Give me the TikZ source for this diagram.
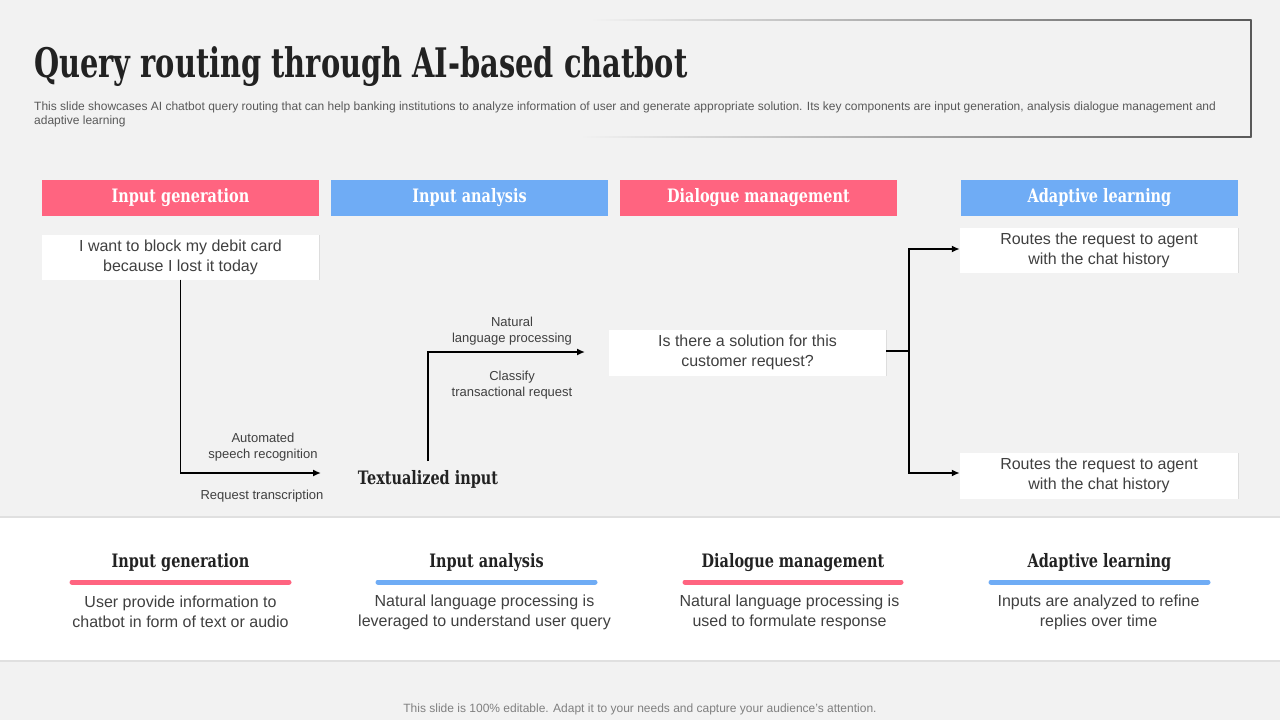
\documentclass[tikz,border=0pt]{standalone}
\usepackage{fontspec}
\usepackage{graphicx}
\setmainfont{Liberation Sans}
\newfontfamily\headfont{DejaVu Serif}[FakeStretch=0.78]
\usetikzlibrary{positioning, arrows.meta, shadows}

\definecolor{bggray}{HTML}{F2F2F2}
\definecolor{pinkbar}{HTML}{FF6480}
\definecolor{bluebar}{HTML}{6FACF5}
\definecolor{txtgray}{HTML}{404040}
\definecolor{darktxt}{HTML}{222222}

\tikzset{
  headbar/.style={minimum width=277pt, minimum height=36pt, inner sep=0pt,
    text=white, font=\headfont\bfseries\fontsize{18.5}{20}\selectfont},
  msgbox/.style={fill=white, minimum width=277pt, minimum height=45pt, inner sep=0pt,
    align=center, text=txtgray, font=\fontsize{16}{20}\selectfont,
    drop shadow={shadow xshift=0.6pt, shadow yshift=-0.8pt, opacity=0.15, fill=black!60}},
  steplabel/.style={align=center, inner sep=0pt, text=txtgray,
    font=\fontsize{13}{16}\selectfont},
  coltitle/.style={inner sep=0pt, text=darktxt,
    font=\headfont\bfseries\fontsize{18.5}{20}\selectfont},
  coltext/.style={align=center, inner sep=0pt, text=txtgray,
    font=\fontsize{16}{20}\selectfont},
  colbar/.style={line width=5pt, line cap=round},
  flow/.style={line width=1.6pt, black},
  flowarrow/.style={flow, -{Latex[length=8pt, width=7pt]}}
}

\begin{document}
\begin{tikzpicture}[x=1pt, y=-1pt]
\fill[bggray] (0,0) rectangle (1280,720);
\useasboundingbox (0,0) rectangle (1280,720);

% title frame
\shade[left color=bggray, right color=black!65] (590,19.4) rectangle (1251.6,20.6);
\shade[left color=bggray, right color=black!65] (580,136.4) rectangle (1251.6,137.6);
\draw[black!65, line width=1.2pt] (1251,20) -- (1251,137);

\node[anchor=base west, inner sep=0pt, text=darktxt,
  font=\headfont\bfseries\fontsize{37}{40}\selectfont] (title) at (34,77)
  {\scalebox{1}[1.1]{Query routing through AI-based chatbot}};
\node[anchor=north west, inner sep=0pt, align=left, text=black!65,
  font=\fontsize{12}{14}\selectfont] (subtitle) at (34,101.5)
  {This slide showcases AI chatbot query routing that can help banking institutions to analyze information of user and generate appropriate solution. Its key components are input generation, analysis dialogue management and\\adaptive learning};

% header bars
\node[headbar, fill=pinkbar] (hgen) at (180.5,198) {Input generation};
\node[headbar, fill=bluebar] (hana) at (469.5,198) {Input analysis};
\node[headbar, fill=pinkbar] (hdia) at (758.5,198) {Dialogue management};
\node[headbar, fill=bluebar] (hada) at (1099.5,198) {Adaptive learning};

% message boxes
\node[msgbox] (request) at (180.5,257) {I want to block my debit card\\because I lost it today};
\node[msgbox, minimum height=46pt] (question) at (747.5,352.5) {Is there a solution for this\\customer request?};
\node[msgbox, minimum width=278pt] (agenttop) at (1099,250) {Routes the request to agent\\with the chat history};
\node[msgbox, minimum width=278pt, minimum height=46pt] (agentbot) at (1099,475.5) {Routes the request to agent\\with the chat history};

\node[inner sep=0pt, text=darktxt, font=\headfont\bfseries\fontsize{18.5}{20}\selectfont]
  (textual) at (428,479) {Textualized input};

% step labels
\node[steplabel] (asr) at (263,447) {Automated\\speech recognition};
\node[steplabel] (transcr) at (262,496) {Request transcription};
\node[steplabel] (nlp) at (512,331) {Natural\\language processing};
\node[steplabel] (classify) at (512,385) {Classify\\transactional request};

% connectors
\coordinate (asrend) at (321,473);
\coordinate (textualtop) at (428,461);
\coordinate (nlpend) at (585,352);
\coordinate (fork) at (909,351);

\draw[flowarrow] (request.south) |- (asrend);
\draw[flowarrow] (textualtop) |- (nlpend);
\draw[flow] (question.east |- fork) -- (fork);
\draw[flowarrow] (fork) |- (agenttop.west |- 0,249);
\draw[flowarrow] (fork) |- (agentbot.west |- 0,473);

% bottom panel
\fill[black!12] (0,516) rectangle (1280,662);
\fill[white] (0,518) rectangle (1280,660);

\node[coltitle] (cgen) at (180.5,563) {Input generation};
\node[coltitle] (cana) at (486.5,563) {Input analysis};
\node[coltitle] (cdia) at (793,563) {Dialogue management};
\node[coltitle] (cada) at (1099.5,563) {Adaptive learning};

\draw[colbar, pinkbar] (72,582) -- (289,582);
\draw[colbar, bluebar] (378,582) -- (595,582);
\draw[colbar, pinkbar] (685,582) -- (901,582);
\draw[colbar, bluebar] (991,582) -- (1208,582);

\node[coltext] (tgen) at (180.5,612) {User provide information to\\chatbot in form of text or audio};
\node[coltext] (tana) at (484.5,612) {Natural language processing is\\leveraged to understand user query};
\node[coltext] (tdia) at (789.5,612) {Natural language processing is\\used to formulate response};
\node[coltext] (tada) at (1098.5,612) {Inputs are analyzed to refine\\replies over time};

\node[inner sep=0pt, text=black!50, font=\fontsize{12}{12}\selectfont] (footer) at (640,709)
  {This slide is 100\% editable. Adapt it to your needs and capture your audience's attention.};
\end{tikzpicture}
\end{document}
